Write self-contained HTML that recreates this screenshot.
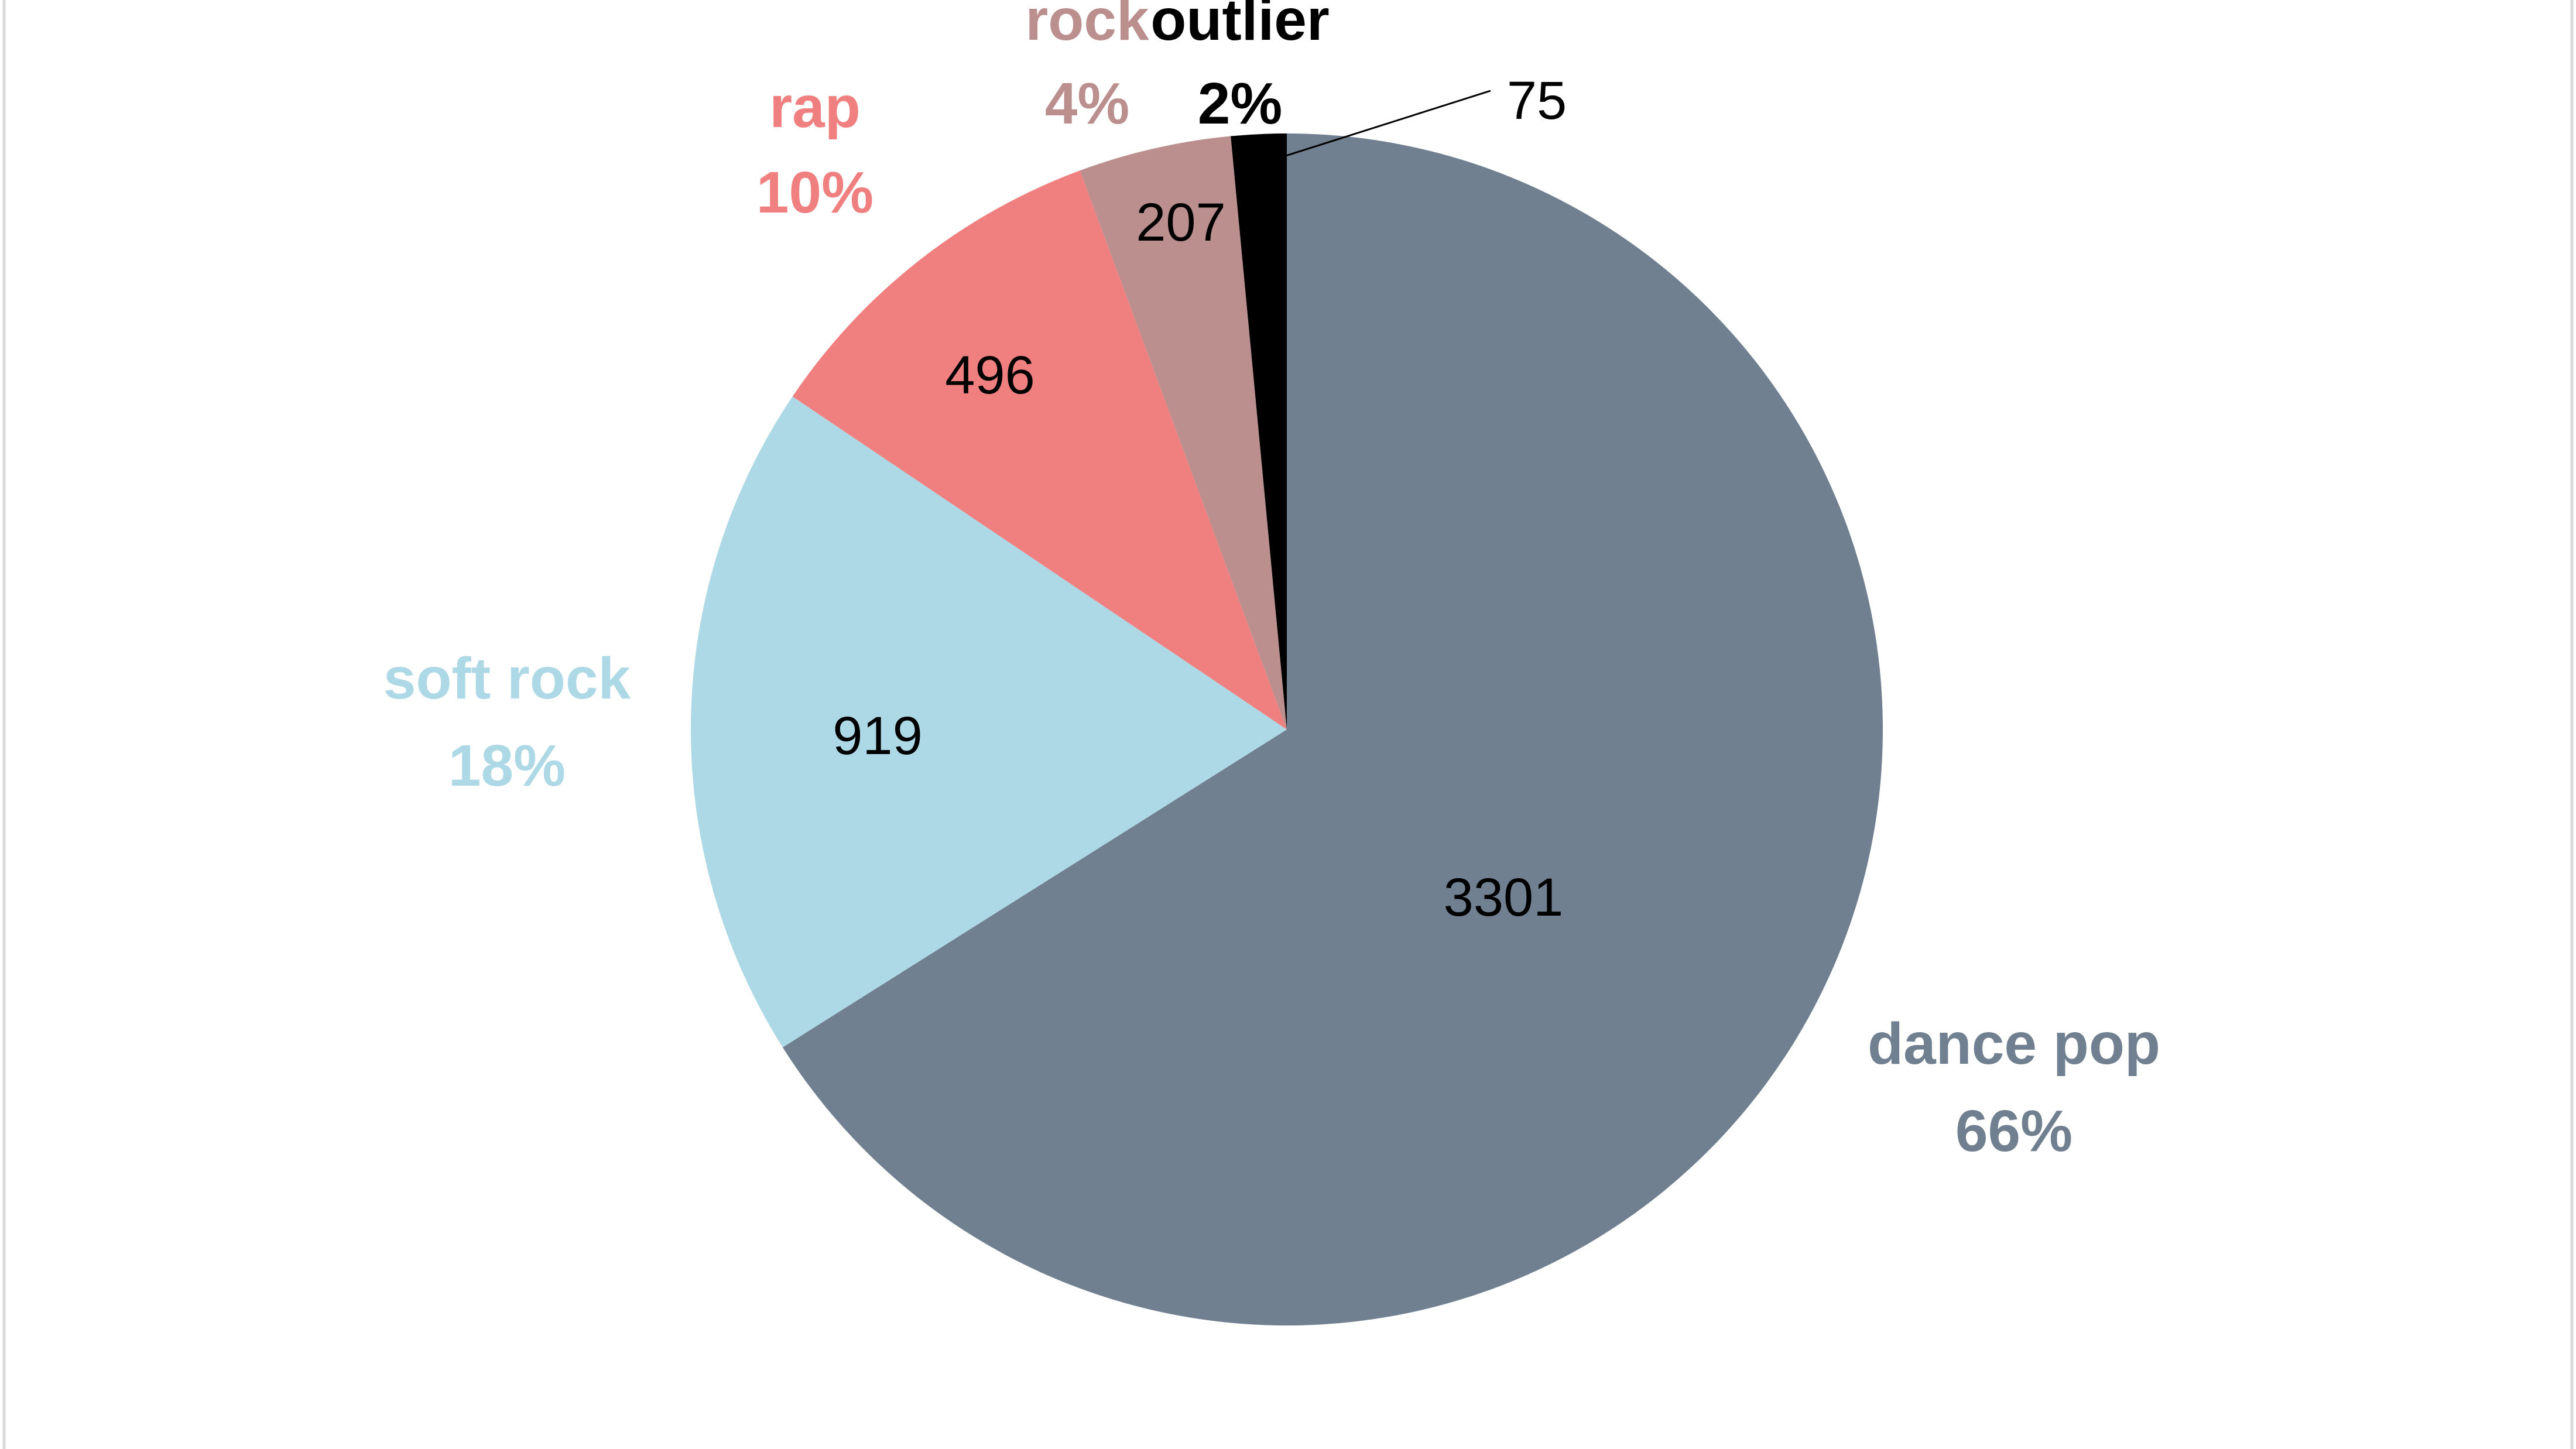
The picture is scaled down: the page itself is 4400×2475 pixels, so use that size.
<!DOCTYPE html>
<html><head><meta charset="utf-8">
<style>
html,body{margin:0;padding:0;background:#fff;}
svg{display:block;}
text{font-family:"Liberation Sans",sans-serif;}
</style></head>
<body>
<svg id="chart" width="4400" height="2475" viewBox="0 0 4400 2475" xmlns="http://www.w3.org/2000/svg">
<rect x="0" y="0" width="4400" height="2475" fill="#fff"/>
<line x1="7" y1="0" x2="7" y2="2475" stroke="#d9d9d9" stroke-width="5"/>
<line x1="4393" y1="0" x2="4393" y2="2475" stroke="#d9d9d9" stroke-width="5"/>
<g id="slices"></g>
<g id="labels"></g>
</svg>
<script>
const categories = ["dance pop","soft rock","rap","rock","outlier"];
const values = [3301, 919, 496, 207, 75];
const colors = ["#708090","#ADD8E6","#F08080","#BC8F8F","#000000"];
const percentLabels = ["66%","18%","10%","4%","2%"];

const cx = 2198, cy = 1246, r = 1018;
const NS = "http://www.w3.org/2000/svg";
const total = values.reduce((a,b)=>a+b,0);
const gS = document.getElementById("slices");
const gL = document.getElementById("labels");
function pt(a, rad){ return [cx + rad*Math.sin(a), cy - rad*Math.cos(a)]; }
function txt(parent, x, y, s, size, fill, weight){
  const t = document.createElementNS(NS,"text");
  t.setAttribute("x", x); t.setAttribute("y", y);
  t.setAttribute("text-anchor","middle");
  t.setAttribute("dominant-baseline","central");
  t.setAttribute("font-size", size);
  t.setAttribute("fill", fill);
  if (weight) t.setAttribute("font-weight", weight);
  t.textContent = s;
  parent.appendChild(t);
  return t;
}
// layout positions for labels
const catPos = [[3440,1783,1932],[866,1159,1308],[1392,183,329],[1857,34,177],[2118,34,177]];
const valPos = [[2568,1533],[1499,1257],[1691,641],[2017,380],[2625,172]];
let a0 = 0;
values.forEach((v,i)=>{
  const a1 = a0 + v/total*2*Math.PI;
  const p0 = pt(a0,r), p1 = pt(a1,r);
  const large = (a1-a0) > Math.PI ? 1 : 0;
  const path = document.createElementNS(NS,"path");
  path.setAttribute("d", `M${cx},${cy} L${p0[0]},${p0[1]} A${r},${r} 0 ${large} 1 ${p1[0]},${p1[1]} Z`);
  path.setAttribute("fill", colors[i]);
  
  
  gS.appendChild(path);

  const mid = (a0+a1)/2;
  if (i === 4) {
    const anchor = pt(mid, r*0.95);
    const ln = document.createElementNS(NS,"line");
    ln.setAttribute("x1", anchor[0]); ln.setAttribute("y1", anchor[1]);
    ln.setAttribute("x2", 2546); ln.setAttribute("y2", 155);
    ln.setAttribute("stroke","#000"); ln.setAttribute("stroke-width","3");
    
    
    gL.appendChild(ln);
  }
  const vp = valPos[i];
  const vt = txt(gL, vp[0], vp[1], String(v), 92, "#000");
  
  

  const c = catPos[i];
  const ct = txt(gL, c[0], c[1], categories[i], 100, colors[i], "bold");
  
  
  const pc = txt(gL, c[0], c[2], percentLabels[i], 100, colors[i], "bold");
  
  
  a0 = a1;
});
</script>
</body></html>
